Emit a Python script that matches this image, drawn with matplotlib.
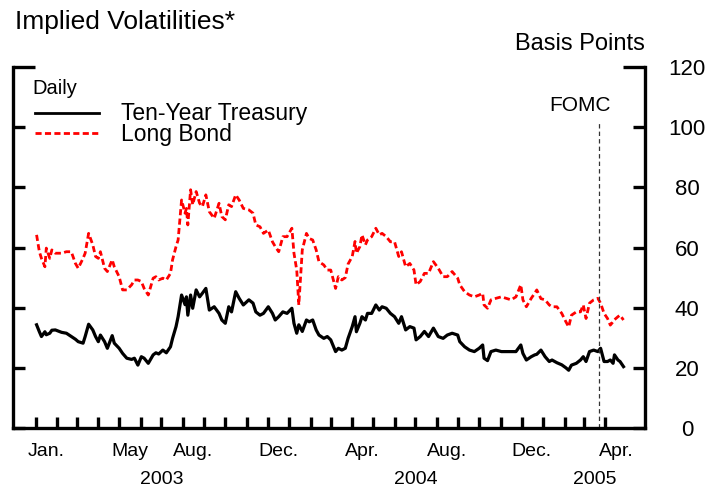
import matplotlib
matplotlib.use("Agg")
import matplotlib.pyplot as plt
import pandas as pd

plt.rcParams['font.family'] = ['Liberation Sans', 'DejaVu Sans']

# values (basis points), roughly twice a week
dates = [
    "2003-01-02", "2003-01-06", "2003-01-09", "2003-01-14", "2003-01-16", "2003-01-21",
    "2003-01-24", "2003-01-29", "2003-02-07", "2003-02-14", "2003-02-21", "2003-02-27",
    "2003-03-03", "2003-03-10", "2003-03-13", "2003-03-18", "2003-03-24", "2003-03-28",
    "2003-04-01", "2003-04-04", "2003-04-10", "2003-04-14", "2003-04-21", "2003-04-24",
    "2003-05-01", "2003-05-06", "2003-05-12", "2003-05-19", "2003-05-23", "2003-05-28",
    "2003-06-02", "2003-06-06", "2003-06-12", "2003-06-19", "2003-06-23", "2003-06-27",
    "2003-07-03", "2003-07-08", "2003-07-14", "2003-07-17", "2003-07-22", "2003-07-25",
    "2003-07-30", "2003-08-04", "2003-08-06", "2003-08-08", "2003-08-12", "2003-08-15",
    "2003-08-20", "2003-08-25", "2003-08-29", "2003-09-03", "2003-09-08", "2003-09-15",
    "2003-09-22", "2003-09-26", "2003-10-01", "2003-10-06", "2003-10-10", "2003-10-16",
    "2003-10-21", "2003-10-27", "2003-11-04", "2003-11-10", "2003-11-14", "2003-11-20",
    "2003-11-25", "2003-12-02", "2003-12-08", "2003-12-12", "2003-12-17", "2003-12-23",
    "2003-12-29", "2004-01-05", "2004-01-08", "2004-01-12", "2004-01-15", "2004-01-20",
    "2004-01-26", "2004-01-30", "2004-02-04", "2004-02-09", "2004-02-13", "2004-02-20",
    "2004-02-25", "2004-03-01", "2004-03-08", "2004-03-12", "2004-03-17", "2004-03-22",
    "2004-03-26", "2004-04-01", "2004-04-05", "2004-04-07", "2004-04-12", "2004-04-15",
    "2004-04-20", "2004-04-23", "2004-04-29", "2004-05-05", "2004-05-10", "2004-05-14",
    "2004-05-20", "2004-05-26", "2004-06-01", "2004-06-07", "2004-06-11", "2004-06-17",
    "2004-06-23", "2004-06-29", "2004-07-02", "2004-07-08", "2004-07-14", "2004-07-20",
    "2004-07-27", "2004-08-03", "2004-08-10", "2004-08-16", "2004-08-23", "2004-08-31",
    "2004-09-03", "2004-09-10", "2004-09-17", "2004-09-24", "2004-10-01", "2004-10-06",
    "2004-10-08", "2004-10-13", "2004-10-18", "2004-10-25", "2004-11-02", "2004-11-09",
    "2004-11-16", "2004-11-23", "2004-11-30", "2004-12-03", "2004-12-08", "2004-12-15",
    "2004-12-20", "2004-12-23", "2004-12-29", "2005-01-04", "2005-01-10", "2005-01-14",
    "2005-01-21", "2005-01-28", "2005-02-03", "2005-02-07", "2005-02-11", "2005-02-18",
    "2005-02-24", "2005-02-28", "2005-03-04", "2005-03-09", "2005-03-15", "2005-03-21",
    "2005-03-25", "2005-03-30", "2005-04-04", "2005-04-08", "2005-04-12", "2005-04-14",
    "2005-04-19", "2005-04-22", "2005-04-27",
]
ten_year = [
    34.3, 32.0, 30.4, 32.0, 31.0, 31.5, 32.5, 32.6, 31.8, 31.5, 30.4, 29.5,
    28.7, 28.2, 30.4, 34.5, 32.6, 30.4, 28.7, 30.9, 28.7, 26.5, 30.7, 28.2,
    26.5, 24.8, 23.2, 22.8, 23.2, 20.9, 23.7, 23.2, 21.5, 24.3, 25.0, 24.6,
    25.9, 25.0, 27.0, 29.8, 33.7, 37.0, 44.2, 41.0, 43.6, 37.5, 44.2, 39.8,
    45.9, 43.6, 44.8, 46.4, 39.2, 40.3, 38.1, 35.9, 34.8, 40.3, 38.6, 45.3,
    43.1, 40.9, 42.6, 41.5, 38.6, 37.5, 38.1, 40.3, 38.1, 35.9, 37.0, 38.6,
    38.1, 39.8, 34.8, 31.5, 34.3, 32.1, 35.9, 35.3, 35.9, 32.6, 30.9, 29.8,
    30.4, 29.3, 25.4, 26.5, 25.9, 26.5, 29.8, 33.7, 37.0, 32.0, 34.8, 37.0,
    35.9, 38.1, 38.1, 40.9, 39.2, 40.3, 39.8, 38.1, 37.0, 34.8, 37.0, 32.6,
    33.7, 33.2, 29.3, 30.4, 32.1, 30.4, 33.2, 30.4, 29.8, 30.9, 31.5, 30.9,
    28.7, 27.0, 25.9, 25.4, 26.5, 27.6, 23.2, 22.4, 25.4, 25.9, 25.4, 25.4,
    25.4, 25.4, 27.6, 24.8, 22.6, 23.7, 24.3, 24.5, 25.9, 23.7, 22.1, 22.6,
    21.7, 21.0, 20.0, 19.2, 20.9, 21.5, 22.6, 23.7, 22.1, 25.4, 25.9, 25.4,
    26.5, 22.1, 22.1, 22.6, 21.5, 24.3, 22.6, 22.1, 20.4,
]
long_bond = [
    64.2, 58.6, 56.4, 53.6, 59.8, 56.4, 59.2, 58.1, 58.1, 58.6, 58.6, 54.7,
    53.1, 56.4, 58.1, 64.7, 60.9, 57.0, 56.4, 58.6, 53.1, 52.0, 55.9, 53.6,
    50.3, 45.9, 45.9, 47.6, 49.2, 49.2, 48.7, 46.4, 44.2, 49.8, 50.3, 49.2,
    49.8, 49.2, 51.4, 55.9, 60.3, 62.5, 75.8, 71.4, 73.0, 67.5, 79.2, 74.2,
    78.6, 74.7, 73.6, 77.5, 71.9, 69.7, 74.7, 70.3, 69.2, 74.2, 73.6, 77.5,
    75.8, 73.0, 72.5, 71.4, 67.5, 66.9, 64.7, 65.8, 61.9, 60.3, 58.6, 63.6,
    63.6, 66.4, 58.1, 52.5, 40.9, 59.2, 64.7, 63.0, 62.5, 59.2, 55.3, 54.2,
    52.5, 52.5, 46.4, 50.3, 49.2, 50.0, 54.5, 57.0, 62.0, 58.1, 60.3, 64.2,
    60.9, 62.5, 63.6, 66.4, 64.2, 64.7, 63.6, 61.9, 61.9, 57.0, 58.6, 53.6,
    54.7, 52.5, 47.6, 48.7, 51.4, 51.4, 55.3, 53.1, 50.3, 50.3, 52.0, 49.8,
    47.6, 45.3, 44.2, 43.6, 44.2, 44.8, 40.9, 39.8, 42.6, 43.1, 43.6, 43.1,
    42.6, 43.6, 47.6, 42.6, 40.3, 43.1, 44.8, 45.9, 43.0, 42.6, 40.9, 40.3,
    40.3, 38.1, 35.3, 33.6, 37.5, 38.6, 38.6, 40.9, 36.4, 41.5, 42.6, 43.1,
    41.5, 38.1, 36.4, 34.2, 35.3, 36.0, 37.0, 37.5, 35.9,
]

month_labels = ["Jan.", "May", "Aug.", "Dec.", "Apr.", "Aug.", "Dec.", "Apr."]
month_label_dates = ["2003-01-16", "2003-05-16", "2003-08-16", "2003-12-16",
                     "2004-04-16", "2004-08-16", "2004-12-16", "2005-04-16"]
years = ["2003", "2004", "2005"]
year_dates = ["2003-07-01", "2004-07-01", "2005-03-16"]
fomc_date = "2005-03-22"

x = pd.to_datetime(dates)

fig = plt.figure(figsize=(7.15, 4.88), dpi=100)
ax = fig.add_axes([13 / 715, 1 - 428 / 488, 632 / 715, 361 / 488])

ax.plot(x, ten_year, color='black', lw=2.3)
ax.plot(x, long_bond, color='red', lw=2.0, linestyle=(0, (2.2, 1.2)))

# FOMC marker
ax.plot([pd.Timestamp(fomc_date)] * 2, [0, 101.7], color='#333333', lw=0.9,
        linestyle=(0, (3.5, 2.5)))
ax.text(pd.Timestamp("2005-02-23"), 105.4, "FOMC", ha='center', va='baseline', fontsize=15)

ax.set_xlim(pd.Timestamp("2002-11-29"), pd.Timestamp("2005-05-28"))
ax.set_ylim(0, 120)

for side in ['left', 'right', 'bottom']:
    ax.spines[side].set_linewidth(2.4)
ax.spines['top'].set_visible(False)

ax.set_yticks([0, 20, 40, 60, 80, 100, 120])
ax.tick_params(axis='y', which='major', direction='in', left=True, right=True,
               labelleft=False, labelright=True, length=8.6, width=2.4,
               labelsize=16, pad=30.5)
for lab in ax.get_yticklabels():
    lab.set_horizontalalignment('center')
# top ticks are longer
top_tick = ax.yaxis.get_major_ticks()[-1]
top_tick.tick1line.set_markersize(16)
top_tick.tick2line.set_markersize(16)

ax.set_xticks(pd.date_range("2003-01-01", "2005-04-01", freq="MS"))
ax.set_xticks(pd.to_datetime(month_label_dates), minor=True)
ax.set_xticklabels([])
ax.set_xticklabels(month_labels, minor=True)
ax.tick_params(axis='x', which='major', direction='in', length=8, width=2.4)
ax.tick_params(axis='x', which='minor', length=0, labelsize=14, pad=11)

for yr, d in zip(years, year_dates):
    ax.annotate(yr, xy=(pd.Timestamp(d), 0), xycoords=('data', 'axes fraction'),
                xytext=(0, -37), textcoords='offset points', ha='center', va='center',
                fontsize=14)

# legend drawn by hand
ax.text(0.030, 0.925, "Daily", transform=ax.transAxes, fontsize=14.5, va='baseline')
ax.plot([0.035, 0.136], [0.8726, 0.8726], transform=ax.transAxes, color='black', lw=2.0)
ax.text(0.171, 0.853, "Ten-Year Treasury", transform=ax.transAxes, fontsize=16.5, va='baseline')
ax.plot([0.035, 0.136], [0.817, 0.817], transform=ax.transAxes, color='red', lw=2.0,
        linestyle=(0, (2.2, 1.2)))
ax.text(0.171, 0.795, "Long Bond", transform=ax.transAxes, fontsize=16.5, va='baseline')

fig.text(15 / 715, 1 - 29 / 488, "Implied Volatilities*", fontsize=19, va='baseline')
fig.text(645 / 715, 1 - 50 / 488, "Basis Points", fontsize=17, ha='right', va='baseline')

fig.savefig("out.png", dpi=100)
